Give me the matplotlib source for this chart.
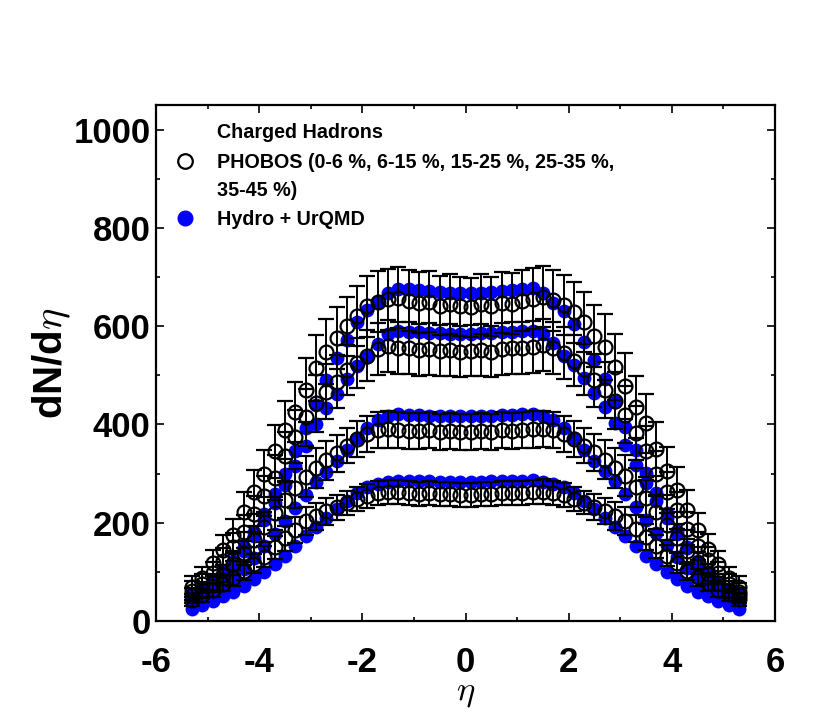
import matplotlib
matplotlib.use("Agg")
import matplotlib.pyplot as plt
from matplotlib.lines import Line2D
from matplotlib.ticker import MultipleLocator

plt.rcParams['font.family'] = ['Liberation Sans', 'DejaVu Sans']
plt.rcParams['mathtext.fontset'] = 'cm'
plt.rcParams['axes.unicode_minus'] = False

eta = [-5.3, -5.1, -4.9, -4.7, -4.5, -4.3, -4.1, -3.9, -3.7, -3.5, -3.3, -3.1, -2.9, -2.7,
       -2.5, -2.3, -2.1, -1.9, -1.7, -1.5, -1.3, -1.1, -0.9, -0.7, -0.5, -0.3, -0.1,
       0.1, 0.3, 0.5, 0.7, 0.9, 1.1, 1.3, 1.5, 1.7, 1.9, 2.1, 2.3, 2.5, 2.7, 2.9,
       3.1, 3.3, 3.5, 3.7, 3.9, 4.1, 4.3, 4.5, 4.7, 4.9, 5.1, 5.3]

# PHOBOS charged hadrons dN/deta
phobos_0_6 = [70, 88, 118, 144, 175, 222, 263, 300, 345, 389, 425, 470, 515, 548,
              576, 600, 620, 640, 650, 655, 658, 652, 648, 650, 642, 645, 640,
              638, 645, 640, 648, 646, 652, 656, 660, 653, 643, 628, 608, 580, 558, 516,
              478, 436, 402, 350, 305, 267, 226, 185, 146, 116, 88, 70]
phobos_6_15 = [62, 76, 98, 122, 150, 182, 218, 255, 292, 335, 375, 415, 443, 467,
               487, 510, 525, 540, 553, 560, 556, 555, 552, 554, 550, 552, 548,
               550, 552, 548, 553, 555, 556, 558, 561, 555, 545, 530, 512, 490, 470, 448,
               420, 382, 345, 300, 262, 225, 188, 153, 124, 98, 76, 60]
phobos_15_25 = [52, 63, 77, 94, 116, 138, 165, 192, 219, 246, 270, 294, 311, 327,
                341, 357, 370, 381, 388, 390, 388, 387, 386, 388, 385, 387, 384,
                385, 387, 385, 388, 387, 389, 390, 391, 388, 380, 370, 357, 343, 328, 312,
                296, 272, 250, 222, 196, 168, 142, 118, 96, 78, 64, 52]
phobos_25_35 = [43, 53, 63, 76, 88, 101, 117, 131, 150, 168, 185, 203, 213, 223,
                231, 240, 249, 255, 261, 262, 262, 261, 259, 260, 258, 259, 257,
                257, 259, 258, 260, 260, 261, 262, 263, 261, 256, 249, 241, 232, 224, 214,
                204, 188, 171, 152, 133, 118, 102, 89, 77, 64, 54, 44]
# relative systematic uncertainty of the PHOBOS points
phobos_rel_err = [0.30, 0.26, 0.23, 0.21, 0.19, 0.18, 0.17, 0.16, 0.155, 0.15, 0.145, 0.14, 0.13, 0.12,
                  0.11, 0.10, 0.098, 0.096, 0.095, 0.095, 0.095, 0.095, 0.095, 0.095, 0.095, 0.095, 0.095,
                  0.095, 0.095, 0.095, 0.095, 0.095, 0.095, 0.095, 0.095, 0.095, 0.096, 0.098, 0.10, 0.11, 0.12, 0.13,
                  0.14, 0.145, 0.15, 0.155, 0.16, 0.17, 0.18, 0.19, 0.21, 0.23, 0.26, 0.30]

# Hydro + UrQMD
hydro_0_6 = [52, 64, 80, 100, 122, 150, 182, 218, 258, 300, 345, 392, 440, 490,
             535, 572, 608, 633, 650, 668, 676, 675, 673, 671, 669, 668, 667,
             667, 668, 670, 672, 674, 676, 677, 668, 648, 630, 605, 568, 532, 493, 445,
             395, 348, 302, 260, 220, 184, 150, 123, 100, 80, 64, 52]
hydro_6_15 = [44, 58, 74, 94, 116, 142, 172, 205, 240, 277, 316, 356, 400, 434,
              462, 492, 518, 538, 563, 584, 590, 589, 588, 587, 586, 585, 585,
              585, 586, 587, 588, 589, 590, 591, 585, 565, 540, 520, 494, 464, 436, 403,
              358, 318, 280, 245, 210, 178, 148, 121, 98, 78, 60, 44]
hydro_15_25 = [34, 46, 58, 72, 88, 106, 128, 152, 178, 204, 230, 256, 283, 304,
               325, 348, 372, 392, 410, 418, 421, 420, 419, 418, 418, 417, 417,
               417, 417, 418, 419, 420, 421, 422, 418, 410, 392, 372, 348, 326, 305, 284,
               258, 232, 205, 180, 155, 130, 108, 89, 72, 58, 46, 34]
hydro_25_35 = [24, 32, 40, 50, 60, 72, 86, 100, 116, 133, 152, 172, 192, 210,
               228, 245, 260, 272, 279, 283, 285, 285, 284, 284, 283, 283, 283,
               283, 283, 284, 284, 285, 285, 286, 283, 279, 272, 260, 245, 228, 210, 192,
               172, 152, 133, 116, 100, 86, 72, 60, 50, 40, 32, 24]

hydro_sets = [hydro_0_6, hydro_6_15, hydro_15_25, hydro_25_35]
phobos_sets = [phobos_0_6, phobos_6_15, phobos_15_25, phobos_25_35]

W, H = 830, 727
fig = plt.figure(figsize=(W / 100, H / 100), dpi=100)
ax = fig.add_axes([156 / W, 1 - 621 / H, (775 - 156) / W, (621 - 105) / H])

for h in hydro_sets:
    ax.plot(eta, h, 'o', color='#0000ff', markersize=10.0, markeredgewidth=0, zorder=2)

for p in phobos_sets:
    err = [v * r for v, r in zip(p, phobos_rel_err)]
    ax.errorbar(eta, p, yerr=err, fmt='o', mfc='none', mec='black', mew=1.6,
                markersize=10.0, ecolor='black', elinewidth=1.4, capsize=5.5,
                capthick=1.4, zorder=3)

ax.set_xlim(-6, 6)
ax.set_ylim(0, 1050)
ax.xaxis.set_major_locator(MultipleLocator(2))
ax.xaxis.set_minor_locator(MultipleLocator(1))
ax.yaxis.set_major_locator(MultipleLocator(200))
ax.yaxis.set_minor_locator(MultipleLocator(100))
ax.tick_params(which='both', direction='in', top=True, right=True, width=1.2)
ax.tick_params(which='major', length=6, labelsize=25)
ax.tick_params(axis='x', which='major', pad=18)
ax.tick_params(axis='y', which='major', pad=4)
ax.tick_params(which='minor', length=3)
for lab in ax.get_xticklabels() + ax.get_yticklabels():
    lab.set_fontweight('bold')
for s in ax.spines.values():
    s.set_linewidth(1.6)

ax.set_xlabel(r'$\eta$', fontsize=25, labelpad=-2)
ax.set_ylabel(r'dN/d$\eta$', fontsize=29, fontweight='bold', labelpad=0)

# legend drawn by hand (title aligned with entry text, marker on first line)
def fx(px):
    return px / W

def fy(py):
    return 1 - py / H

leg_font = dict(fontsize=14.2, fontweight='bold', va='center', ha='left')
fig.text(fx(217), fy(133), 'Charged Hadrons', **leg_font)
fig.text(fx(217), fy(163), 'PHOBOS (0-6 %, 6-15 %, 15-25 %, 25-35 %,', **leg_font)
fig.text(fx(217), fy(191), '35-45 %)', **leg_font)
fig.text(fx(217), fy(219), 'Hydro + UrQMD', **leg_font)
fig.add_artist(Line2D([fx(185)], [fy(161)], transform=fig.transFigure, linestyle='none',
                      marker='o', mfc='none', mec='black', mew=1.6, markersize=10.5))
fig.add_artist(Line2D([fx(185)], [fy(218)], transform=fig.transFigure, linestyle='none',
                      marker='o', color='#0000ff', markersize=10.5))

fig.savefig('out.png', dpi=100)
